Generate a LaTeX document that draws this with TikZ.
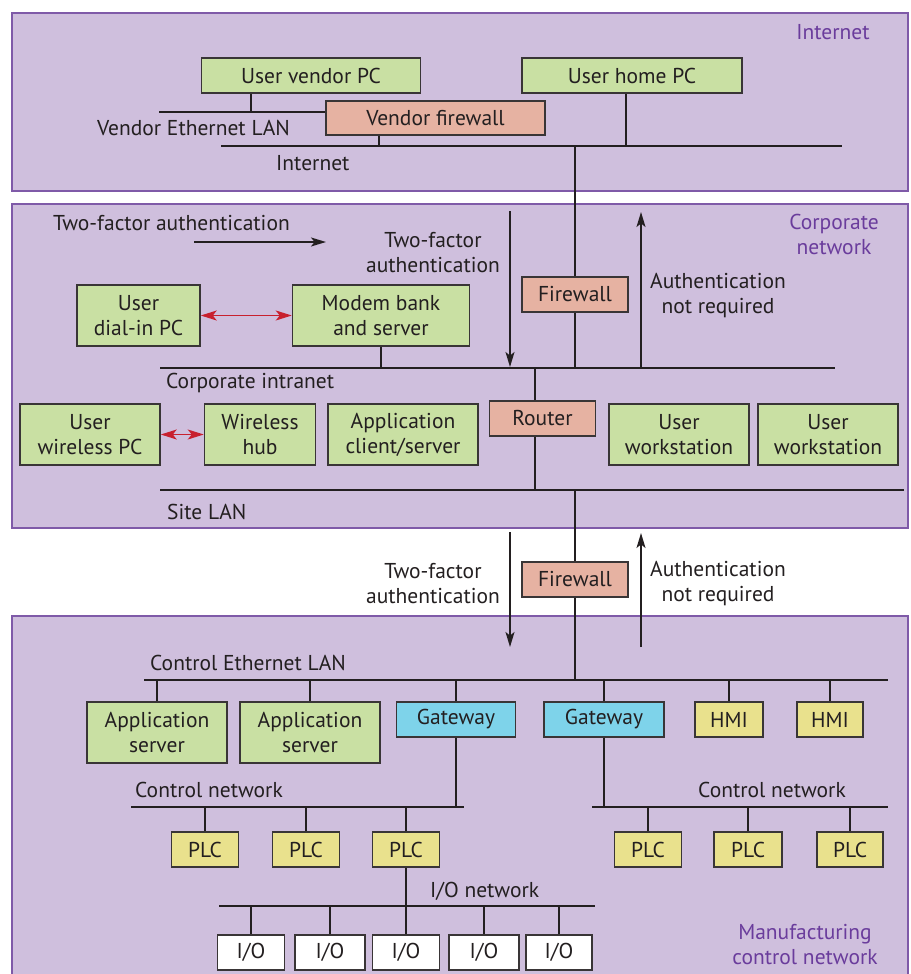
\documentclass[tikz,border=0pt]{standalone}
\usepackage{fontspec}
\setmainfont{PT Sans}
\usetikzlibrary{arrows.meta}
\definecolor{bg}{HTML}{CFBFDD}
\definecolor{bgline}{HTML}{7F5AA8}
\definecolor{ptxt}{HTML}{6A3C9C}
\definecolor{grn}{HTML}{C9E0A3}
\definecolor{sal}{HTML}{E6B2A2}
\definecolor{cya}{HTML}{7ED3EA}
\definecolor{yel}{HTML}{E9E18D}
\definecolor{ink}{HTML}{231F20}
\definecolor{redarr}{HTML}{C8202E}
\newcommand\fsz{\fontsize{21.5}{25}\selectfont}
\tikzset{
  zone/.style={fill=bg, draw=bgline, line width=1.5pt},
  box/.style={draw=ink!90, line width=1.5pt, inner sep=0pt, align=center, text=ink, font=\fsz},
  gbox/.style={box, fill=grn},
  sbox/.style={box, fill=sal},
  cbox/.style={box, fill=cya},
  ybox/.style={box, fill=yel},
  wbox/.style={box, fill=white},
  lbl/.style={inner sep=0pt, text=ink, font=\fsz, align=center},
  zlbl/.style={inner sep=0pt, text=ptxt, font=\fsz, align=center},
  wire/.style={draw=ink, line width=1.7pt},
  flow/.style={draw=ink, line width=1.4pt, -{Stealth[length=15pt, width=9pt, inset=3.5pt]}},
  redarrow/.style={draw=redarr, line width=1.5pt, {Stealth[length=16pt, width=10pt, inset=4pt]}-{Stealth[length=16pt, width=10pt, inset=4pt]}},
}
\begin{document}
\begin{tikzpicture}[x=1pt, y=-1pt]
\useasboundingbox (0,0) rectangle (910,974);
% ---------------- zones
\path[zone] (12,13) rectangle (908,191);
\path[zone] (12,204) rectangle (908,528);
\path[zone] (12,616) rectangle (908,980);
\node[zlbl, anchor=base] (zInternet) at (833,40) {Internet};
\node[zlbl] (zCorp) at (834,234) {Corporate\\network};
\node[zlbl] (zManu) at (805,945) {Manufacturing\\control network};

% ---------------- Internet zone
\node[gbox, minimum width=219pt, minimum height=35pt] (uvpc) at (311,75.5) {User vendor PC};
\node[gbox, minimum width=220pt, minimum height=35pt] (uhpc) at (632,75.5) {User home PC};
\coordinate (vl1) at (159,112);
\coordinate (uvd) at (251,112);
\draw[wire] (uvd) -- (uvd |- uvpc.south);
\node[sbox, minimum width=219pt, minimum height=34pt] (vfw) at (435.5,118) {Vendor firewall};
\draw[wire] (vl1) -- (vl1 -| vfw.west);
\node[lbl, anchor=base west] (tVLAN) at (97,135) {Vendor Ethernet LAN};
\coordinate (in1) at (221,146);
\coordinate (in2) at (842,146);
\draw[wire] (in1) -- (in2);
\coordinate (vfd) at (379,146);
\draw[wire] (vfd |- vfw.south) -- (vfd);
\coordinate (uhd) at (626,146);
\draw[wire] (uhd |- uhpc.south) -- (uhd);
\node[lbl, anchor=base west] (tInet) at (276,170) {Internet};
\coordinate (bb1) at (575,146);

% ---------------- Corporate zone
\node[lbl, anchor=base west] (tTF1) at (53,230) {Two-factor authentication};
\coordinate (a1s) at (194,242);
\coordinate (a1e) at (326,242);
\draw[flow] (a1s) -- (a1e);
\node[lbl] (tTF2) at (433,253) {Two-factor\\authentication};
\node[sbox, minimum width=106pt, minimum height=35pt] (cfw) at (575,294.5) {Firewall};
\node[lbl] (tAN1) at (718,295.5) {Authentication\\not required};
\coordinate (ci1) at (160,368);
\coordinate (ci2) at (835,368);
\draw[wire] (ci1) -- (ci2);
\draw[wire] (bb1) -- (cfw.north);
\draw[wire] (cfw.south) -- (cfw.south |- ci1);
\coordinate (da1) at (510,211);
\coordinate (da2) at (510,367);
\draw[flow] (da1) -- (da2);
\coordinate (ua1) at (641,368);
\coordinate (ua2) at (641,212);
\draw[flow] (ua1) -- (ua2);
\node[gbox, minimum width=123pt, minimum height=61pt] (udpc) at (138.5,315.5) {User\\dial-in PC};
\node[gbox, minimum width=177pt, minimum height=61pt] (modem) at (381,315.5) {Modem bank\\and server};
\draw[redarrow] (udpc.east) -- (modem.west);
\draw[wire] (modem.south) -- (modem.south |- ci1);
\node[lbl, anchor=base west] (tCI) at (166,388) {Corporate intranet};
\node[sbox, minimum width=106pt, minimum height=35pt] (router) at (542.5,418.5) {Router};
\coordinate (sl1) at (160,490);
\coordinate (sl2) at (904,490);
\draw[wire] (sl1) -- (sl2);
\coordinate (rtx) at (535,368);
\draw[wire] (rtx) -- (rtx |- router.north);
\draw[wire] (rtx |- router.south) -- (rtx |- sl1);
\node[gbox, minimum width=140pt, minimum height=61pt] (uwpc) at (90,434.5) {User\\wireless PC};
\node[gbox, minimum width=111pt, minimum height=61pt] (hub) at (260,434.5) {Wireless\\hub};
\node[gbox, minimum width=150pt, minimum height=61pt] (appcs) at (403,434.5) {Application\\client/server};
\node[gbox, minimum width=140pt, minimum height=61pt] (uws1) at (679,434.5) {User\\workstation};
\node[gbox, minimum width=140pt, minimum height=61pt] (uws2) at (828,434.5) {User\\workstation};
\draw[redarrow] (uwpc.east) -- (hub.west);
\node[lbl, anchor=base west] (tSL) at (167,519) {Site LAN};

% ---------------- between corporate and manufacturing
\coordinate (bb2) at (575,490);
\node[sbox, minimum width=106pt, minimum height=35pt] (cfw2) at (575,579.5) {Firewall};
\node[lbl] (tTF3) at (433,583.5) {Two-factor\\authentication};
\node[lbl] (tAN2) at (718,583.5) {Authentication\\not required};
\coordinate (da3) at (510,532);
\coordinate (da4) at (510,647);
\draw[flow] (da3) -- (da4);
\coordinate (ua3) at (641,647);
\coordinate (ua4) at (641,533);
\draw[flow] (ua3) -- (ua4);

% ---------------- Manufacturing zone
\coordinate (ce1) at (144,680);
\coordinate (ce2) at (888,680);
\draw[wire] (ce1) -- (ce2);
\draw[wire] (bb2) -- (cfw2.north);
\draw[wire] (cfw2.south) -- (cfw2.south |- ce1);
\node[lbl, anchor=base west] (tCEL) at (150,670) {Control Ethernet LAN};
\node[gbox, minimum width=140pt, minimum height=61pt] (as1) at (157,732.5) {Application\\server};
\node[gbox, minimum width=140pt, minimum height=61pt] (as2) at (310,732.5) {Application\\server};
\node[cbox, minimum width=119pt, minimum height=35pt] (gw1) at (456,719.5) {Gateway};
\node[cbox, minimum width=120pt, minimum height=35pt] (gw2) at (604,719.5) {Gateway};
\node[ybox, minimum width=68pt, minimum height=35pt] (hmi1) at (729,719.5) {HMI};
\node[ybox, minimum width=66pt, minimum height=35pt] (hmi2) at (830,719.5) {HMI};
\foreach \n in {as1,as2,gw1,gw2,hmi1,hmi2}{
  \draw[wire] (\n.north) -- (\n.north |- ce1);
}
% control networks
\coordinate (cnl1) at (131,807);
\coordinate (cnl2) at (464,807);
\coordinate (cnr1) at (592,807);
\coordinate (cnr2) at (888,807);
\draw[wire] (cnl1) -- (cnl2);
\draw[wire] (cnr1) -- (cnr2);
\draw[wire] (gw1.south) -- (gw1.south |- cnl1);
\draw[wire] (gw2.south) -- (gw2.south |- cnr1);
\node[lbl, anchor=base west] (tCNL) at (135,797) {Control network};
\node[lbl, anchor=base west] (tCNR) at (698,797) {Control network};
\node[ybox, minimum width=67pt, minimum height=35pt] (plc1) at (205,849.5) {PLC};
\node[ybox, minimum width=67pt, minimum height=35pt] (plc2) at (306,849.5) {PLC};
\node[ybox, minimum width=67pt, minimum height=35pt] (plc3) at (406,849.5) {PLC};
\node[ybox, minimum width=67pt, minimum height=35pt] (plc4) at (648,849.5) {PLC};
\node[ybox, minimum width=68pt, minimum height=35pt] (plc5) at (748,849.5) {PLC};
\node[ybox, minimum width=66pt, minimum height=35pt] (plc6) at (850,849.5) {PLC};
\foreach \n in {plc1,plc2,plc3}{
  \draw[wire] (\n.north) -- (\n.north |- cnl1);
}
\foreach \n in {plc4,plc5,plc6}{
  \draw[wire] (\n.north) -- (\n.north |- cnr1);
}
% I/O network
\coordinate (io1c) at (219,906);
\coordinate (io2c) at (595,906);
\draw[wire] (io1c) -- (io2c);
\node[lbl, anchor=base west] (tIO) at (430,897) {I/O network};
\node[wbox, minimum width=67pt, minimum height=35pt] (io1) at (251,952.5) {I/O};
\node[wbox, minimum width=70pt, minimum height=35pt] (io2) at (330,952.5) {I/O};
\node[wbox, minimum width=67pt, minimum height=35pt] (io3) at (406,952.5) {I/O};
\node[wbox, minimum width=70pt, minimum height=35pt] (io4) at (484,952.5) {I/O};
\node[wbox, minimum width=66pt, minimum height=35pt] (io5) at (559,952.5) {I/O};
\draw[wire] (plc3.south) -- (io3.north);
\foreach \n in {io1,io2,io4,io5}{
  \draw[wire] (\n.north) -- (\n.north |- io1c);
}
\end{tikzpicture}
\end{document}
